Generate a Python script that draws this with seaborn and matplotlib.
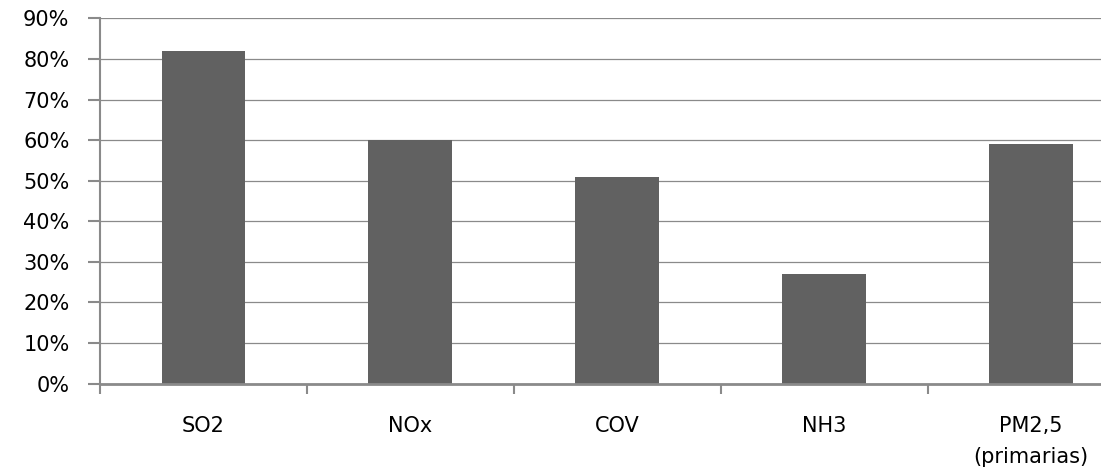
import matplotlib
matplotlib.use("Agg")
import matplotlib.pyplot as plt
import seaborn as sns
import pandas as pd
from matplotlib.ticker import FuncFormatter, FixedLocator

categories = ["SO2", "NOx", "COV", "NH3", "PM2,5\n(primarias)"]
values = [82, 60, 51, 27, 59]
y_ticks = [0, 10, 20, 30, 40, 50, 60, 70, 80, 90]

sns.set_theme(style="white")
plt.rcParams['font.family'] = ['DejaVu Sans']

df = pd.DataFrame({"cat": categories, "val": values})

W, H = 1101, 474
fig = plt.figure(figsize=(W / 100, H / 100), dpi=100)
left, right, bottom, top = 100, 1134.6, 383.5, 18.5
ax = fig.add_axes([left / W, (H - bottom) / H, (right - left) / W, (bottom - top) / H])

sns.barplot(data=df, x="cat", y="val", color="#616161", saturation=1,
            width=0.405, linewidth=0, ax=ax, zorder=3)

ax.set_xlim(-0.5, len(categories) - 0.5)
ax.set_ylim(0, 90)
ax.set_yticks(y_ticks)
ax.yaxis.set_major_formatter(FuncFormatter(lambda v, p: f"{int(v)}%"))
ax.grid(axis="y", color="#8a8a8a", linewidth=0.9, zorder=0)
ax.set_axisbelow(True)
ax.set_xlabel("")
ax.set_ylabel("")

for s in ["top", "right"]:
    ax.spines[s].set_visible(False)
ax.spines["left"].set_color("#8a8a8a")
ax.spines["left"].set_linewidth(1.5)
ax.spines["bottom"].set_color("#8a8a8a")
ax.spines["bottom"].set_linewidth(2.0)
ax.spines["bottom"].set_zorder(4)

ax.tick_params(axis="y", which="major", length=9, width=1.5, color="#8a8a8a",
               pad=13, labelsize=15, labelcolor="black", left=True)
ax.tick_params(axis="x", which="major", length=0, pad=23.5, labelsize=15,
               labelcolor="black")
ax.xaxis.set_minor_locator(FixedLocator([i - 0.5 for i in range(len(categories) + 1)]))
ax.tick_params(axis="x", which="minor", length=7.5, width=1.5, color="#8a8a8a",
               bottom=True)
for lab in ax.get_xticklabels():
    lab.set_linespacing(1.7)

fig.savefig("out.png", dpi=100)
